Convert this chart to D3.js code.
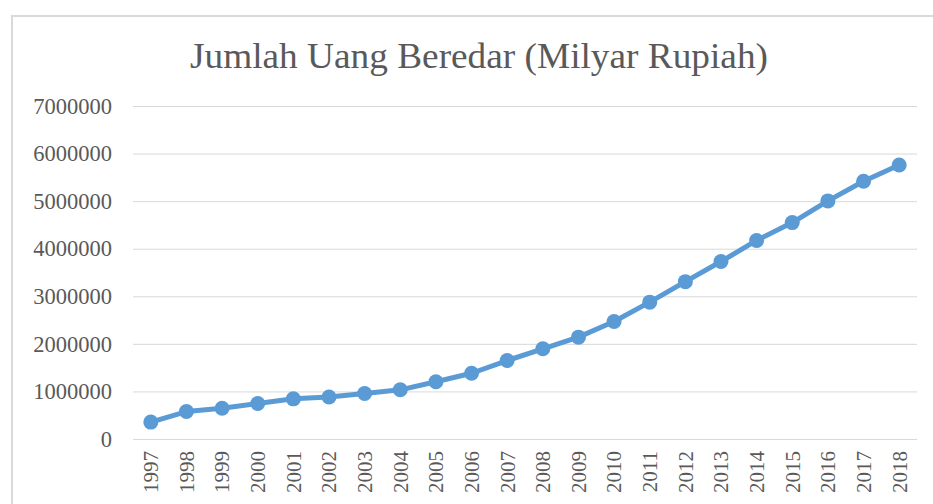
<!DOCTYPE html>
<html>
<head>
<meta charset="utf-8">
<script src="https://cdn.jsdelivr.net/npm/d3@7"></script>
<style>
  body { margin: 0; background: #fff; }
  text { font-family: "Liberation Serif", "Times New Roman", serif; fill: #595959; }
  .grid line { stroke: #d9d9d9; stroke-width: 1; }
  .grid .domain { display: none; }
</style>
</head>
<body>
<div id="chart"></div>
<script>
// Data
const years = ['1997', '1998', '1999', '2000', '2001', '2002', '2003', '2004', '2005', '2006', '2007',
  '2008', '2009', '2010', '2011', '2012', '2013', '2014', '2015', '2016', '2017', '2018']
const values = [355643, 577381, 646205, 747028, 844053, 883908, 955692, 1033877, 1202762, 1382493, 1649662,
  1895839, 2141384, 2471206, 2877220, 3307508, 3730197, 4173327, 4548800, 5004977, 5419165, 5760046]
const yTicks = [0, 1000000, 2000000, 3000000, 4000000, 5000000, 6000000, 7000000]
const title = 'Jumlah Uang Beredar (Milyar Rupiah)'

;(() => {
  const width = 933
  const height = 504
  const margin = { top: 106, right: 16, bottom: 65, left: 133 }
  const innerWidth = width - margin.left - margin.right
  const innerHeight = height - margin.top - margin.bottom

  const data = years.map((y, i) => ({ year: y, value: values[i] }))

  const svg = d3.select('#chart')
    .append('svg')
    .attr('width', width)
    .attr('height', height)

  // Chart border
  svg.append('rect')
    .attr('x', 12)
    .attr('y', 16)
    .attr('width', width)
    .attr('height', height)
    .attr('fill', 'none')
    .attr('stroke', '#d9d9d9')
    .attr('stroke-width', 2)

  // Title
  svg.append('text')
    .attr('x', 479)
    .attr('y', 68)
    .attr('text-anchor', 'middle')
    .attr('font-size', 36)
    .attr('textLength', 578)
    .attr('lengthAdjust', 'spacingAndGlyphs')
    .text(title)

  const g = svg.append('g')
    .attr('transform', `translate(${margin.left}, ${margin.top})`)

  const x = d3.scaleBand().domain(years).range([0, innerWidth])
  const y = d3.scaleLinear().domain([0, 7000000]).range([innerHeight, 0])

  // Y gridlines
  g.append('g')
    .attr('class', 'grid')
    .call(d3.axisLeft(y).tickValues(yTicks).tickSize(-innerWidth).tickFormat(''))

  // Y labels
  g.append('g')
    .call(d3.axisLeft(y).tickValues(yTicks).tickSize(0).tickPadding(21).tickFormat(d3.format('d')))
    .call(a => a.select('.domain').remove())
    .selectAll('text')
    .attr('font-size', 22.5)
    .attr('fill', '#595959')
    .style('font-family', '"Liberation Serif", serif')

  // X labels
  g.append('g')
    .attr('transform', `translate(0, ${innerHeight})`)
    .call(d3.axisBottom(x).tickSize(0))
    .call(a => a.select('.domain').remove())
    .selectAll('text')
    .attr('font-size', 21)
    .attr('fill', '#595959')
    .style('font-family', '"Liberation Serif", serif')
    .attr('transform', 'rotate(-90)')
    .attr('text-anchor', 'end')
    .attr('x', -12)
    .attr('y', 0)
    .attr('dy', '0.35em')

  const cx = d => x(d.year) + x.bandwidth() / 2

  const line = d3.line()
    .x(cx)
    .y(d => y(d.value))

  g.append('path')
    .datum(data)
    .attr('fill', 'none')
    .attr('stroke', '#5b9bd5')
    .attr('stroke-width', 5)
    .attr('stroke-linejoin', 'round')
    .attr('stroke-linecap', 'round')
    .attr('d', line)

  g.selectAll('circle')
    .data(data)
    .join('circle')
    .attr('cx', cx)
    .attr('cy', d => y(d.value))
    .attr('r', 7.5)
    .attr('fill', '#5b9bd5')
})()
</script>
</body>
</html>
